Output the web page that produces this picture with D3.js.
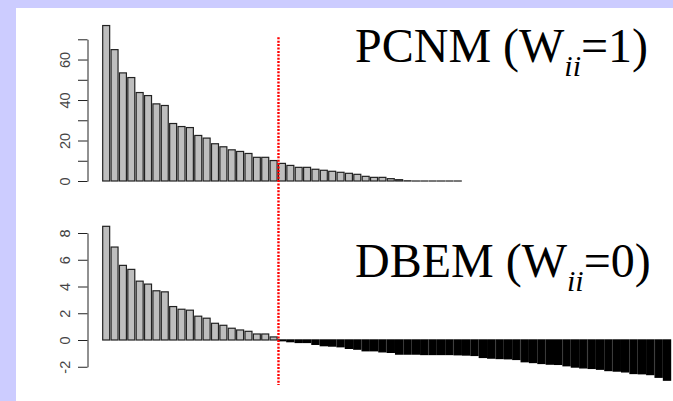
<!DOCTYPE html>
<html>
<head>
<meta charset="utf-8">
<script src="https://cdn.jsdelivr.net/npm/d3@7"></script>
<style>
  body { margin: 0; background: #ccccff; }
  svg { display: block; }
</style>
</head>
<body>
<div id="chart"></div>
<script>
// ============================
// Data (eigenvalues, in order)
// ============================

const pcnmValues = [76.8, 64.9, 53.4, 51.1, 43.7, 42.2, 38.1, 37.3, 28.4, 26.9,
  26.4, 22.5, 21.2, 18.4, 16.9, 15.4, 14.6, 13.6, 11.7, 11.7,
  10.1, 8.7, 7.7, 6.75, 6.75, 5.8, 5.3, 4.8, 4.3, 3.8,
  3.3, 2.3, 1.8, 1.8, 1.15, 0.65, 0.1, 0, 0, 0,
  0, 0, 0];

const dbemValues = [8.5, 6.95, 5.58, 5.28, 4.4, 4.18, 3.68, 3.6, 2.5, 2.3,
  2.23, 1.78, 1.63, 1.25, 1.1, 0.88, 0.75, 0.65, 0.45, 0.45,
  0.23, -0.05, -0.12, -0.18, -0.18, -0.32, -0.42, -0.45, -0.5, -0.62,
  -0.68, -0.8, -0.8, -0.88, -0.92, -1.05, -1.05, -1.05, -1.08, -1.08,
  -1.08, -1.08, -1.1, -1.12, -1.15, -1.3, -1.35, -1.38, -1.4, -1.45,
  -1.62, -1.68, -1.75, -1.8, -1.82, -1.92, -2.02, -2.08, -2.12, -2.18,
  -2.28, -2.32, -2.38, -2.5, -2.52, -2.58, -2.78, -3.0];

const pcnmTicks = [0, 10, 20, 30, 40, 50, 60, 70];
const pcnmLabels = [0, 20, 40, 60];
const dbemTicks = [-2, 0, 2, 4, 6, 8];

const cutoff = 21; // number of bars left of the dotted line

const width = 673;
const height = 401;

// ============================
// Setup
// ============================

const svg = d3.select("#chart").append("svg")
  .attr("width", width)
  .attr("height", height);

svg.append("rect")
  .attr("x", 16).attr("y", 8)
  .attr("width", width - 16).attr("height", height - 8)
  .attr("fill", "#fff");

// barplot-style x units: bar i (1-based) spans [1.2i - 1, 1.2i]
const xscale = d3.scaleLinear().domain([0, 81.6]).range([101.3, 670.5]);
const barLeft = i => xscale(1.2 * (i + 1) - 1);
const barW = xscale(1) - xscale(0);

function panel(values, yscale, ticks, labels) {
  const g = svg.append("g");

  // zero-height bars still show their outline as a dash
  g.selectAll("rect")
    .data(values)
    .join("rect")
    .attr("x", (d, i) => barLeft(i))
    .attr("width", barW)
    .attr("y", d => Math.min(yscale(d), yscale(0)))
    .attr("height", d => Math.max(Math.abs(yscale(d) - yscale(0)), 0.01))
    .attr("fill", d => d < 0 ? "#000" : "#bebebe")
    .attr("stroke", d => d < 0 ? "#000" : "#222")
    .attr("stroke-width", d => d < 0 ? 1.4 : 1.2);

  const axis = d3.axisLeft(yscale)
    .tickValues(ticks)
    .tickSize(9.5)
    .tickSizeOuter(0)
    .tickFormat(d => labels.includes(d) ? d : "");

  const ax = g.append("g")
    .attr("transform", "translate(87.5,0)")
    .call(axis);

  ax.select(".domain").attr("stroke", "#222");
  ax.selectAll(".tick line").attr("stroke", "#222");
  ax.selectAll("text")
    .attr("transform", "rotate(-90)")
    .attr("x", 0)
    .attr("y", -17.5)
    .attr("dy", 0)
    .attr("text-anchor", "middle")
    .attr("fill", "#444")
    .style("font-family", "'Liberation Sans', Arial, sans-serif")
    .style("font-size", "14.5px");
}

const yTop = d3.scaleLinear().domain([0, 70]).range([181, 39.3]);
const yBottom = d3.scaleLinear().domain([-2, 8]).range([366.75, 233]);

panel(pcnmValues, yTop, pcnmTicks, pcnmLabels);
panel(dbemValues, yBottom, dbemTicks, dbemTicks);

// dotted cut-off line
svg.append("line")
  .attr("x1", xscale(1.2 * cutoff + 0.2))
  .attr("x2", xscale(1.2 * cutoff + 0.2))
  .attr("y1", 37.3)
  .attr("y2", 385)
  .attr("stroke", "#ff0000")
  .attr("stroke-width", 2.4)
  .attr("stroke-dasharray", "2,1.4");

// ============================
// Titles
// ============================

function title(y, name, w) {
  const t = svg.append("text")
    .attr("x", 355)
    .attr("y", y)
    .style("font-family", "'Liberation Serif', 'Times New Roman', serif")
    .style("font-size", "48px")
    .attr("fill", "#000");
  t.append("tspan").text(name + " (W");
  t.append("tspan")
    .attr("dy", 14)
    .style("font-size", "30px")
    .style("font-style", "italic")
    .text("ii");
  t.append("tspan")
    .attr("dy", -14)
    .text("=" + w + ")");
}

title(62, "PCNM", 1);
title(277, "DBEM", 0);
</script>
</body>
</html>
